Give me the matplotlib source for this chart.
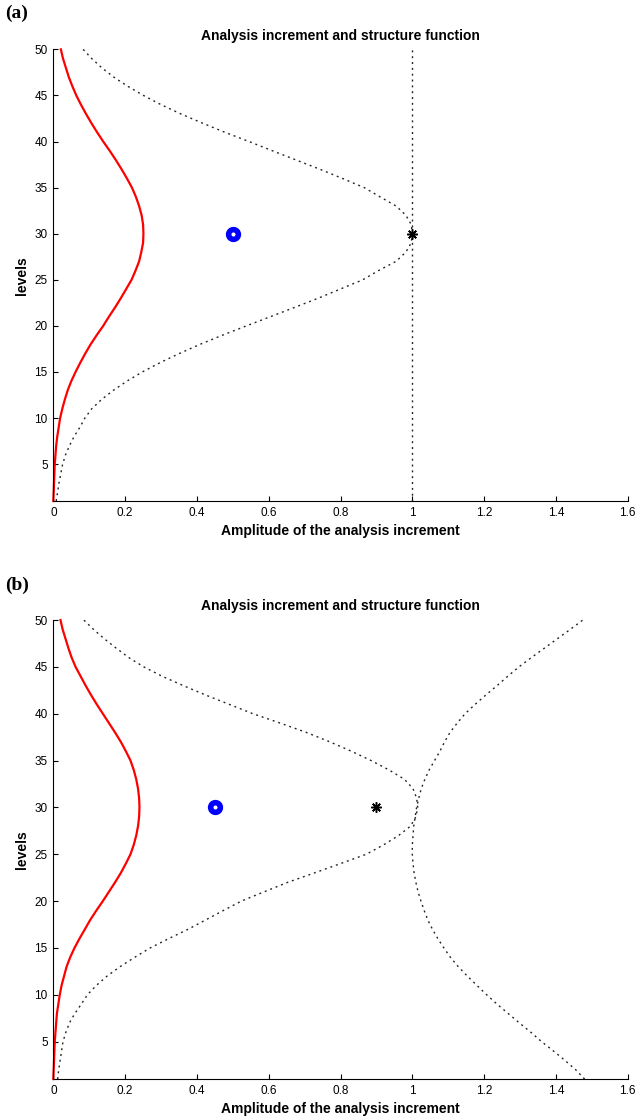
"""
Analysis increment and structure function, panels (a) and (b).
"""
import matplotlib
matplotlib.use("Agg")
import matplotlib.pyplot as plt

plt.rcParams["font.family"] = ["Liberation Sans", "DejaVu Sans"]

levels = list(range(1, 51))

# panel (a)
red_a = [0.000, 0.001, 0.002, 0.003, 0.004, 0.006, 0.008, 0.011, 0.015, 0.019,
         0.025, 0.032, 0.040, 0.050, 0.062, 0.075, 0.089, 0.104, 0.121, 0.139,
         0.155, 0.172, 0.188, 0.203, 0.218, 0.229, 0.239, 0.245, 0.250, 0.251,
         0.250, 0.246, 0.239, 0.230, 0.219, 0.205, 0.190, 0.174, 0.157, 0.139,
         0.122, 0.106, 0.091, 0.077, 0.064, 0.053, 0.043, 0.035, 0.027, 0.021]
struct_a = [0.008, 0.012, 0.016, 0.021, 0.026, 0.034, 0.045, 0.058, 0.074, 0.088,
            0.107, 0.134, 0.167, 0.205, 0.248, 0.297, 0.351, 0.409, 0.472, 0.538,
            0.605, 0.672, 0.738, 0.800, 0.862, 0.906, 0.955, 0.982, 0.997, 1.000,
            0.997, 0.982, 0.955, 0.910, 0.866, 0.805, 0.742, 0.676, 0.610, 0.545,
            0.478, 0.415, 0.355, 0.300, 0.251, 0.207, 0.168, 0.135, 0.107, 0.083]
vert_a_x = [1.0, 1.0]
vert_a_lev = [1, 50]
obs_a = (0.5, 30)
bg_a = (1.0, 30)

# panel (b)
red_b = [0.000, 0.001, 0.002, 0.003, 0.004, 0.006, 0.008, 0.010, 0.014, 0.018,
         0.023, 0.030, 0.037, 0.047, 0.059, 0.073, 0.088, 0.103, 0.120, 0.138,
         0.155, 0.172, 0.188, 0.202, 0.215, 0.224, 0.231, 0.236, 0.239, 0.240,
         0.239, 0.236, 0.231, 0.224, 0.215, 0.202, 0.188, 0.172, 0.155, 0.138,
         0.121, 0.105, 0.090, 0.076, 0.062, 0.051, 0.042, 0.034, 0.026, 0.020]
struct_b_left = [0.012, 0.015, 0.019, 0.023, 0.027, 0.035, 0.045, 0.060, 0.078, 0.095,
                 0.120, 0.150, 0.186, 0.227, 0.270, 0.322, 0.376, 0.425, 0.474, 0.524,
                 0.588, 0.653, 0.727, 0.800, 0.872, 0.920, 0.962, 0.995, 1.010, 1.015,
                 1.012, 1.002, 0.978, 0.935, 0.885, 0.830, 0.770, 0.705, 0.632, 0.556,
                 0.490, 0.424, 0.362, 0.303, 0.252, 0.210, 0.175, 0.142, 0.112, 0.085]
struct_b_right = [1.480, 1.455, 1.425, 1.393, 1.360, 1.330, 1.298, 1.267, 1.236, 1.207,
                  1.180, 1.153, 1.128, 1.106, 1.088, 1.071, 1.056, 1.043, 1.033, 1.024,
                  1.016, 1.010, 1.005, 1.002, 1.000, 1.000, 1.002, 1.004, 1.008, 1.012,
                  1.018, 1.025, 1.035, 1.047, 1.062, 1.077, 1.090, 1.105, 1.125, 1.147,
                  1.175, 1.205, 1.236, 1.266, 1.297, 1.332, 1.368, 1.404, 1.440, 1.475]
obs_b = (0.45, 30)
bg_b = (0.9, 30)

xticks = [0, 0.2, 0.4, 0.6, 0.8, 1.0, 1.2, 1.4, 1.6]
xticklabels = ["0", "0.2", "0.4", "0.6", "0.8", "1", "1.2", "1.4", "1.6"]
yticks = [5, 10, 15, 20, 25, 30, 35, 40, 45, 50]

DOT = (0, (1.4, 2.8))


def style_axes(ax):
    ax.set_xlim(0, 1.6)
    ax.set_ylim(1, 50)
    ax.set_xticks(xticks)
    ax.set_xticklabels(xticklabels)
    ax.set_yticks(yticks)
    ax.tick_params(direction="in", length=3.5, width=0.8, labelsize=8.5, pad=4)
    for s in ["top", "right"]:
        ax.spines[s].set_visible(False)
    for s in ["left", "bottom"]:
        ax.spines[s].set_linewidth(0.8)
    ax.set_title("Analysis increment and structure function",
                 fontsize=10, fontweight="bold", pad=7)
    ax.set_xlabel("Amplitude of the analysis increment", fontsize=10,
                  fontweight="bold", labelpad=4)
    ax.set_ylabel("levels", fontsize=10, fontweight="bold", labelpad=4)


def markers(ax, obs, bg):
    ax.plot(obs[0], obs[1], "o", ms=7, mew=4.0, mec="blue", mfc="none", clip_on=False)
    ax.plot(bg[0], bg[1], marker=(8, 2, 0), ms=7.5, mew=1.1, color="black",
            linestyle="none", clip_on=False)


fig = plt.figure(figsize=(6.37, 11.19), dpi=100)
ax1 = fig.add_axes([0.0837, 0.5523, 0.9017, 0.4036])
ax2 = fig.add_axes([0.0837, 0.0357, 0.9017, 0.4102])

# (a)
ax1.plot(struct_a, levels, color="#222222", lw=1.0, ls=DOT, clip_on=False)
ax1.plot(vert_a_x, vert_a_lev, color="#222222", lw=1.0, ls=DOT, clip_on=False)
ax1.plot(red_a, levels, color="red", lw=1.6, clip_on=False)
markers(ax1, obs_a, bg_a)
style_axes(ax1)

# (b)
ax2.plot(struct_b_left, levels, color="#222222", lw=1.0, ls=DOT, clip_on=False)
ax2.plot(struct_b_right, levels, color="#222222", lw=1.0, ls=DOT, clip_on=False)
ax2.plot(red_b, levels, color="red", lw=1.6, clip_on=False)
markers(ax2, obs_b, bg_b)
style_axes(ax2)

fig.text(0.008, 1 - 13 / 1119, "(a)", family="Liberation Serif", fontweight="bold",
         fontsize=14, va="center", ha="left")
fig.text(0.008, 1 - 585 / 1119, "(b)", family="Liberation Serif", fontweight="bold",
         fontsize=14, va="center", ha="left")

fig.savefig("out.png", dpi=100)
plt.close(fig)
